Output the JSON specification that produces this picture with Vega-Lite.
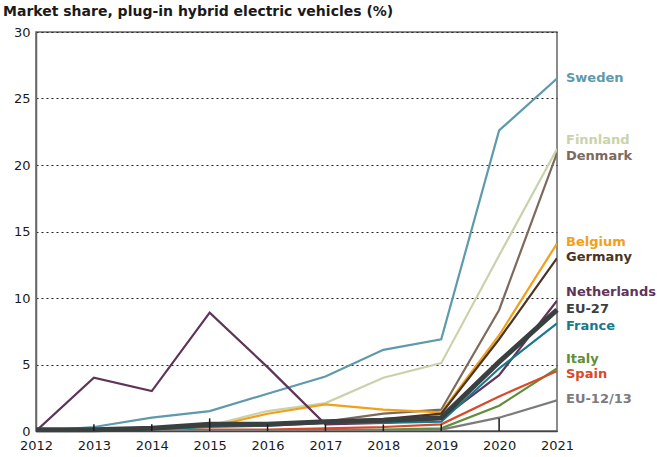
{
  "$schema": "https://vega.github.io/schema/vega-lite/v6.json",
  "autosize": "none",
  "width": 521,
  "height": 399,
  "padding": {"left": 36, "top": 32, "right": 100, "bottom": 26},
  "config": {
    "font": "DejaVu Sans",
    "view": {"stroke": "#666", "strokeWidth": 1.5}
  },
  "title": {
    "text": "Market share, plug-in hybrid electric vehicles (%)",
    "anchor": "start",
    "frame": "group",
    "dx": -33,
    "offset": 7,
    "fontSize": 14,
    "fontWeight": "bold",
    "color": "#1a1a1a",
    "font": "DejaVu Sans"
  },
  "data": {
    "values": [
      {"year": 2012, "country": "Sweden", "share": 0.0},
      {"year": 2013, "country": "Sweden", "share": 0.3},
      {"year": 2014, "country": "Sweden", "share": 1.0},
      {"year": 2015, "country": "Sweden", "share": 1.5},
      {"year": 2016, "country": "Sweden", "share": 2.8},
      {"year": 2017, "country": "Sweden", "share": 4.1},
      {"year": 2018, "country": "Sweden", "share": 6.1},
      {"year": 2019, "country": "Sweden", "share": 6.9},
      {"year": 2020, "country": "Sweden", "share": 22.6},
      {"year": 2021, "country": "Sweden", "share": 26.5},

      {"year": 2012, "country": "Finnland", "share": 0.0},
      {"year": 2013, "country": "Finnland", "share": 0.1},
      {"year": 2014, "country": "Finnland", "share": 0.2},
      {"year": 2015, "country": "Finnland", "share": 0.4},
      {"year": 2016, "country": "Finnland", "share": 1.5},
      {"year": 2017, "country": "Finnland", "share": 2.1},
      {"year": 2018, "country": "Finnland", "share": 4.0},
      {"year": 2019, "country": "Finnland", "share": 5.1},
      {"year": 2020, "country": "Finnland", "share": 13.2},
      {"year": 2021, "country": "Finnland", "share": 21.2},

      {"year": 2012, "country": "Denmark", "share": 0.0},
      {"year": 2013, "country": "Denmark", "share": 0.1},
      {"year": 2014, "country": "Denmark", "share": 0.2},
      {"year": 2015, "country": "Denmark", "share": 0.4},
      {"year": 2016, "country": "Denmark", "share": 0.5},
      {"year": 2017, "country": "Denmark", "share": 0.7},
      {"year": 2018, "country": "Denmark", "share": 1.3},
      {"year": 2019, "country": "Denmark", "share": 1.6},
      {"year": 2020, "country": "Denmark", "share": 9.1},
      {"year": 2021, "country": "Denmark", "share": 20.9},

      {"year": 2012, "country": "Belgium", "share": 0.0},
      {"year": 2013, "country": "Belgium", "share": 0.1},
      {"year": 2014, "country": "Belgium", "share": 0.1},
      {"year": 2015, "country": "Belgium", "share": 0.3},
      {"year": 2016, "country": "Belgium", "share": 1.3},
      {"year": 2017, "country": "Belgium", "share": 2.0},
      {"year": 2018, "country": "Belgium", "share": 1.6},
      {"year": 2019, "country": "Belgium", "share": 1.4},
      {"year": 2020, "country": "Belgium", "share": 7.2},
      {"year": 2021, "country": "Belgium", "share": 14.1},

      {"year": 2012, "country": "Germany", "share": 0.0},
      {"year": 2013, "country": "Germany", "share": 0.1},
      {"year": 2014, "country": "Germany", "share": 0.2},
      {"year": 2015, "country": "Germany", "share": 0.4},
      {"year": 2016, "country": "Germany", "share": 0.5},
      {"year": 2017, "country": "Germany", "share": 0.7},
      {"year": 2018, "country": "Germany", "share": 0.9},
      {"year": 2019, "country": "Germany", "share": 1.3},
      {"year": 2020, "country": "Germany", "share": 6.9},
      {"year": 2021, "country": "Germany", "share": 13.0},

      {"year": 2012, "country": "Netherlands", "share": 0.0},
      {"year": 2013, "country": "Netherlands", "share": 4.0},
      {"year": 2014, "country": "Netherlands", "share": 3.0},
      {"year": 2015, "country": "Netherlands", "share": 8.9},
      {"year": 2016, "country": "Netherlands", "share": 4.8},
      {"year": 2017, "country": "Netherlands", "share": 0.5},
      {"year": 2018, "country": "Netherlands", "share": 0.6},
      {"year": 2019, "country": "Netherlands", "share": 0.9},
      {"year": 2020, "country": "Netherlands", "share": 4.2},
      {"year": 2021, "country": "Netherlands", "share": 9.8},

      {"year": 2012, "country": "France", "share": 0.0},
      {"year": 2013, "country": "France", "share": 0.1},
      {"year": 2014, "country": "France", "share": 0.1},
      {"year": 2015, "country": "France", "share": 0.3},
      {"year": 2016, "country": "France", "share": 0.4},
      {"year": 2017, "country": "France", "share": 0.6},
      {"year": 2018, "country": "France", "share": 0.6},
      {"year": 2019, "country": "France", "share": 0.7},
      {"year": 2020, "country": "France", "share": 4.7},
      {"year": 2021, "country": "France", "share": 8.1},

      {"year": 2012, "country": "Italy", "share": 0.0},
      {"year": 2013, "country": "Italy", "share": 0.0},
      {"year": 2014, "country": "Italy", "share": 0.0},
      {"year": 2015, "country": "Italy", "share": 0.0},
      {"year": 2016, "country": "Italy", "share": 0.0},
      {"year": 2017, "country": "Italy", "share": 0.1},
      {"year": 2018, "country": "Italy", "share": 0.1},
      {"year": 2019, "country": "Italy", "share": 0.2},
      {"year": 2020, "country": "Italy", "share": 1.9},
      {"year": 2021, "country": "Italy", "share": 4.7},

      {"year": 2012, "country": "Spain", "share": 0.0},
      {"year": 2013, "country": "Spain", "share": 0.0},
      {"year": 2014, "country": "Spain", "share": 0.0},
      {"year": 2015, "country": "Spain", "share": 0.1},
      {"year": 2016, "country": "Spain", "share": 0.1},
      {"year": 2017, "country": "Spain", "share": 0.2},
      {"year": 2018, "country": "Spain", "share": 0.3},
      {"year": 2019, "country": "Spain", "share": 0.5},
      {"year": 2020, "country": "Spain", "share": 2.6},
      {"year": 2021, "country": "Spain", "share": 4.5},

      {"year": 2012, "country": "EU-12/13", "share": 0.0},
      {"year": 2013, "country": "EU-12/13", "share": 0.0},
      {"year": 2014, "country": "EU-12/13", "share": 0.0},
      {"year": 2015, "country": "EU-12/13", "share": 0.0},
      {"year": 2016, "country": "EU-12/13", "share": 0.0},
      {"year": 2017, "country": "EU-12/13", "share": 0.0},
      {"year": 2018, "country": "EU-12/13", "share": 0.0},
      {"year": 2019, "country": "EU-12/13", "share": 0.1},
      {"year": 2020, "country": "EU-12/13", "share": 1.0},
      {"year": 2021, "country": "EU-12/13", "share": 2.3},

      {"year": 2012, "country": "EU-27", "share": 0.1},
      {"year": 2013, "country": "EU-27", "share": 0.1},
      {"year": 2014, "country": "EU-27", "share": 0.2},
      {"year": 2015, "country": "EU-27", "share": 0.5},
      {"year": 2016, "country": "EU-27", "share": 0.5},
      {"year": 2017, "country": "EU-27", "share": 0.7},
      {"year": 2018, "country": "EU-27", "share": 0.8},
      {"year": 2019, "country": "EU-27", "share": 1.0},
      {"year": 2020, "country": "EU-27", "share": 5.2},
      {"year": 2021, "country": "EU-27", "share": 9.1}
    ]
  },
  "encoding": {
    "x": {
      "field": "year",
      "type": "quantitative",
      "scale": {"domain": [2012, 2021], "nice": false, "zero": false},
      "axis": {
        "title": null,
        "values": [2012, 2013, 2014, 2015, 2016, 2017, 2018, 2019, 2020, 2021],
        "format": "d",
        "grid": false,
        "domainColor": "#444",
        "domainWidth": 1.5,
        "ticks": false,
        "labelPadding": 8,
        "labelFontSize": 13,
        "labelColor": "#1a1a1a",
        "labelFlush": false
      }
    },
    "y": {
      "field": "share",
      "type": "quantitative",
      "scale": {"domain": [0, 30], "nice": false},
      "axis": {
        "title": null,
        "values": [0, 5, 10, 15, 20, 25, 30],
        "grid": true,
        "gridColor": "#222",
        "gridDash": [2, 3],
        "gridWidth": 1,
        "ticks": false,
        "domainColor": "#666",
        "domainWidth": 1.5,
        "labelPadding": 6,
        "labelFontSize": 13,
        "labelColor": "#1a1a1a"
      }
    },
    "color": {
      "field": "country",
      "type": "nominal",
      "legend": null,
      "scale": {
        "domain": ["Sweden", "Finnland", "Denmark", "Belgium", "Germany", "Netherlands", "EU-27", "France", "Italy", "Spain", "EU-12/13"],
        "range": ["#5e9aab", "#c9d3ab", "#7c6a5d", "#f2a01a", "#4b3524", "#5f3459", "#3a3f3f", "#17798b", "#5f8f3a", "#d8492a", "#7b7b7b"]
      }
    }
  },
  "layer": [
    {
      "transform": [{"filter": "datum.country !== 'EU-27'"}],
      "mark": {"type": "line", "strokeWidth": 2.2, "clip": true},
      "encoding": {"detail": {"field": "country"}}
    },
    {
      "transform": [{"filter": "datum.country === 'EU-27'"}],
      "mark": {"type": "line", "strokeWidth": 5},
      "encoding": {}
    },
    {
      "transform": [{"filter": "datum.country === 'EU-27' && datum.year > 2012 && datum.year < 2021 && datum.year !== 2015 && datum.year !== 2020"}],
      "mark": {"type": "rule", "strokeWidth": 1.5},
      "encoding": {"y": {"datum": 0}, "y2": {"datum": 0.5}, "color": {"value": "#1a1a1a"}}
    },
    {
      "transform": [{"filter": "datum.country === 'EU-27' && (datum.year === 2015 || datum.year === 2020)"}],
      "mark": {"type": "rule", "strokeWidth": 1.5},
      "encoding": {"y": {"datum": 0}, "y2": {"datum": 0.95}, "color": {"value": "#1a1a1a"}}
    },
    {
      "transform": [{"filter": "datum.year === 2021 && indexof(['Sweden','Belgium','Germany','EU-27','EU-12/13'], datum.country) >= 0"}],
      "mark": {"type": "text", "align": "left", "dx": 9, "dy": -1, "fontSize": 13, "fontWeight": "bold", "baseline": "middle"},
      "encoding": {"text": {"field": "country"}}
    },
    {
      "transform": [{"filter": "datum.year === 2021 && indexof(['Finnland','Netherlands','Italy'], datum.country) >= 0"}],
      "mark": {"type": "text", "align": "left", "dx": 9, "dy": -9, "fontSize": 13, "fontWeight": "bold", "baseline": "middle"},
      "encoding": {"text": {"field": "country"}}
    },
    {
      "transform": [{"filter": "datum.year === 2021 && indexof(['Denmark','France','Spain'], datum.country) >= 0"}],
      "mark": {"type": "text", "align": "left", "dx": 9, "dy": 3, "fontSize": 13, "fontWeight": "bold", "baseline": "middle"},
      "encoding": {"text": {"field": "country"}}
    }
  ]
}
